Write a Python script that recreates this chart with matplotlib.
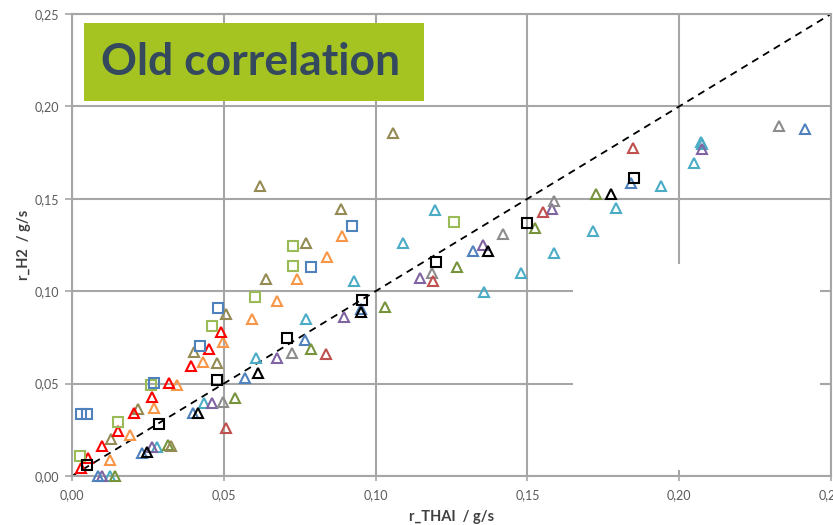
import matplotlib
matplotlib.use("Agg")
import matplotlib.pyplot as plt
from matplotlib.patches import Rectangle
from matplotlib.ticker import FuncFormatter

plt.rcParams['font.family'] = ['Lato', 'DejaVu Sans']

# ---- data ----
black_sq_x = [0.0050, 0.0287, 0.0478, 0.0708, 0.0955, 0.1199, 0.1499, 0.1851]
black_sq_y = [0.0060, 0.0282, 0.0520, 0.0745, 0.0953, 0.1157, 0.1370, 0.1614]

black_tri_x = [0.0247, 0.0415, 0.0613, 0.0952, 0.1370, 0.1775]
black_tri_y = [0.0130, 0.0341, 0.0555, 0.0885, 0.1219, 0.1528]

blue_sq_x = [0.0030, 0.0049, 0.0270, 0.0422, 0.0481, 0.0787, 0.0922]
blue_sq_y = [0.0336, 0.0336, 0.0504, 0.0704, 0.0910, 0.1130, 0.1354]

blue_tri_x = [0.0086, 0.0230, 0.0399, 0.0570, 0.0767, 0.0952, 0.1320, 0.1841, 0.2414]
blue_tri_y = [0.0000, 0.0125, 0.0341, 0.0531, 0.0737, 0.0905, 0.1219, 0.1587, 0.1880]

green_sq_x = [0.0026, 0.0152, 0.0260, 0.0461, 0.0603, 0.0728, 0.0728, 0.1258]
green_sq_y = [0.0108, 0.0292, 0.0490, 0.0813, 0.0970, 0.1135, 0.1246, 0.1376]

olive_tri_x = [0.0142, 0.0316, 0.0537, 0.0787, 0.1031, 0.1268, 0.1525, 0.1726]
olive_tri_y = [0.0000, 0.0168, 0.0423, 0.0688, 0.0915, 0.1132, 0.1343, 0.1528]

red_tri_x = [0.0030, 0.0053, 0.0099, 0.0152, 0.0204, 0.0263, 0.0320, 0.0392, 0.0451, 0.0490]
red_tri_y = [0.0043, 0.0098, 0.0163, 0.0244, 0.0341, 0.0428, 0.0504, 0.0596, 0.0688, 0.0780]

darkred_tri_x = [0.0507, 0.0837, 0.1189, 0.1551, 0.1848]
darkred_tri_y = [0.0260, 0.0661, 0.1056, 0.1430, 0.1777]

orange_tri_x = [0.0125, 0.0190, 0.0270, 0.0346, 0.0431, 0.0497, 0.0593, 0.0675, 0.0741, 0.0840, 0.0889]
orange_tri_y = [0.0087, 0.0222, 0.0368, 0.0493, 0.0617, 0.0726, 0.0850, 0.0948, 0.1067, 0.1186, 0.1298]

khaki_tri_x = [0.0128, 0.0217, 0.0326, 0.0402, 0.0478, 0.0507, 0.0639, 0.0619, 0.0771, 0.0886, 0.1057]
khaki_tri_y = [0.0200, 0.0363, 0.0165, 0.0672, 0.0612, 0.0878, 0.1067, 0.1570, 0.1262, 0.1446, 0.1858]

purple_tri_x = [0.0099, 0.0264, 0.0461, 0.0675, 0.0896, 0.1146, 0.1354, 0.1581, 0.2075]
purple_tri_y = [0.0000, 0.0157, 0.0395, 0.0640, 0.0861, 0.1073, 0.1251, 0.1446, 0.1771]

cyan_tri_x = [0.0125, 0.0280, 0.0435, 0.0606, 0.0771, 0.0929, 0.1090, 0.1196, 0.1357, 0.1479,
              0.1588, 0.1716, 0.1792, 0.1940, 0.2049, 0.2072, 0.2075]
cyan_tri_y = [0.0000, 0.0157, 0.0395, 0.0640, 0.0850, 0.1056, 0.1262, 0.1441, 0.0997, 0.1100,
              0.1208, 0.1327, 0.1452, 0.1570, 0.1696, 0.1810, 0.1795]

gray_tri_x = [0.0497, 0.0725, 0.1186, 0.1420, 0.1588, 0.2329]
gray_tri_y = [0.0400, 0.0666, 0.1100, 0.1308, 0.1490, 0.1896]

diag_x = [0.0, 0.25]
diag_y = [0.0, 0.25]

x_ticks = [0.00, 0.05, 0.10, 0.15, 0.20, 0.25]
y_ticks = [0.00, 0.05, 0.10, 0.15, 0.20, 0.25]
x_label = "r_THAI  / g/s"
y_label = "r_H2  / g/s"
title_text = "Old correlation"

# ---- figure ----
fig = plt.figure(figsize=(8.33, 5.25), dpi=100)
ax = fig.add_axes([72/833, 1-476/525, (831-72)/833, (476-14)/525])
ax.set_xlim(0, 0.25)
ax.set_ylim(0, 0.25)
ax.set_axisbelow(True)

grid_c = '#A6A6A6'
ax.grid(True, color=grid_c, lw=1.5)
for s in ax.spines.values():
    s.set_color(grid_c)
    s.set_linewidth(1.5)
ax.set_xticks(x_ticks)
ax.set_yticks(y_ticks)
fmt = FuncFormatter(lambda v, p: f"{v:.2f}".replace('.', ','))
ax.xaxis.set_major_formatter(fmt)
ax.yaxis.set_major_formatter(fmt)
ax.tick_params(axis='x', direction='inout', length=7, width=1.2, color=grid_c,
               labelsize=9, labelcolor='#595959', pad=6)
ax.tick_params(axis='y', direction='out', length=5, width=1.2, color=grid_c,
               labelsize=9, labelcolor='#595959', pad=4)

# white box covering lower-right gridlines
ax.add_patch(Rectangle((0.165, 0.003), 0.0814, 0.1115, facecolor='white',
                       edgecolor='none', zorder=1))

ax.plot(diag_x, diag_y, color='black', lw=1.3, ls=(0, (4, 3)), zorder=2)

def tri(x, y, c):
    ax.plot(x, y, ls='none', marker='^', ms=7.8, mfc='none', mec=c, mew=1.5,
            zorder=3, clip_on=False)

def sq(x, y, c):
    ax.plot(x, y, ls='none', marker='s', ms=7.5, mfc='none', mec=c, mew=1.5,
            zorder=4, clip_on=False)

tri(cyan_tri_x, cyan_tri_y, '#4BACC6')
tri(purple_tri_x, purple_tri_y, '#8064A2')
tri(blue_tri_x, blue_tri_y, '#4F81BD')
tri(olive_tri_x, olive_tri_y, '#77933C')
tri(khaki_tri_x, khaki_tri_y, '#948A54')
tri(gray_tri_x, gray_tri_y, '#8C8C8C')
tri(orange_tri_x, orange_tri_y, '#F79646')
tri(darkred_tri_x, darkred_tri_y, '#C0504D')
tri(red_tri_x, red_tri_y, '#FF0000')
tri(black_tri_x, black_tri_y, '#000000')
sq(green_sq_x, green_sq_y, '#9BBB59')
sq(blue_sq_x, blue_sq_y, '#4F81BD')
sq(black_sq_x, black_sq_y, '#000000')

ax.set_xlabel(x_label, fontsize=10.5, fontweight='bold', color='#404040', labelpad=6)
ax.set_ylabel(y_label, fontsize=10.5, fontweight='bold', color='#404040', labelpad=3)

# title box
fig.patches.append(Rectangle((84/833, 1-101/525), 340/833, 78/525,
                             transform=fig.transFigure, facecolor='#A5C422',
                             edgecolor='none', zorder=5))
fig.text(251/833, 1-62/525, title_text, ha='center', va='center',
         fontsize=32, fontweight='bold', color='#34495E', zorder=6)

fig.savefig('out.png', dpi=100)
